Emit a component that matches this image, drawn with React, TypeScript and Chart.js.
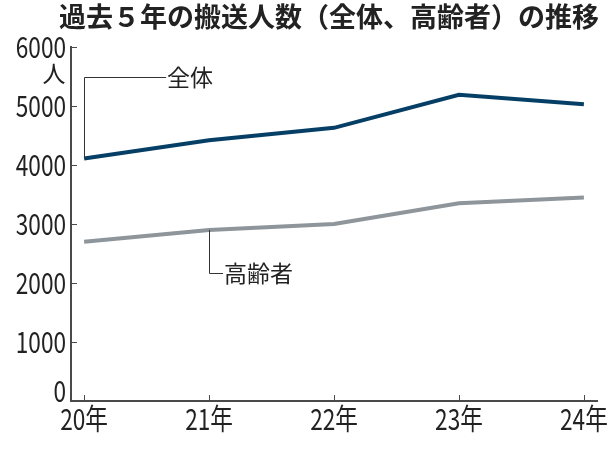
import React, { useEffect, useRef } from "react";
import { Chart, registerables } from "chart.js";

Chart.register(...registerables);

const years = [20, 21, 22, 23, 24];
const totalValues = [4110, 4420, 4630, 5190, 5030];
const elderlyValues = [2700, 2900, 3000, 3350, 3450];
const yTicks = [0, 1000, 2000, 3000, 4000, 5000, 6000];
const titleText = "過去５年の搬送人数（全体、高齢者）の推移";
const totalLabel = "全体";
const elderlyLabel = "高齢者";
const unitLabel = "人";

const FONT = "'Noto Sans CJK JP', 'Noto Sans', sans-serif";
const AXIS = "#4a4a4a";
const TEXT = "#222222";
const SQUEEZE = 0.78;

function condensedText(ctx: CanvasRenderingContext2D, text: string, x: number, y: number, align: "left" | "right" | "center") {
  ctx.save();
  ctx.translate(x, y);
  ctx.scale(SQUEEZE, 1);
  ctx.textAlign = align;
  ctx.fillText(text, 0, 0);
  ctx.restore();
}

export default function App() {
  const ref = useRef<HTMLCanvasElement>(null);
  useEffect(() => {
    const canvas = ref.current;
    if (!canvas) return;
    const deco = {
      id: "deco",
      afterDraw(chart: any) {
        const ctx = chart.ctx;
        const x = chart.scales.x;
        const y = chart.scales.y;
        const area = chart.chartArea;
        ctx.save();
        // title
        ctx.fillStyle = TEXT;
        ctx.font = `bold 27px ${FONT}`;
        ctx.textAlign = "center";
        ctx.textBaseline = "middle";
        ctx.fillText(titleText, 329, 17);
        // ticks inside
        ctx.strokeStyle = AXIS;
        ctx.lineWidth = 1;
        ctx.beginPath();
        yTicks.forEach((v) => {
          const py = Math.round(y.getPixelForValue(v)) + 0.5;
          ctx.moveTo(area.left, py);
          ctx.lineTo(area.left + 6, py);
        });
        years.forEach((v) => {
          const px = Math.round(x.getPixelForValue(v)) + 0.5;
          ctx.moveTo(px, area.bottom);
          ctx.lineTo(px, area.bottom - 6);
        });
        ctx.stroke();
        // tick labels (condensed)
        ctx.fillStyle = TEXT;
        ctx.font = `29px ${FONT}`;
        ctx.textBaseline = "middle";
        yTicks.forEach((v) => {
          let py = y.getPixelForValue(v);
          if (v === 0) py -= 10;
          condensedText(ctx, String(v), area.left - 5, py, "right");
        });
        years.forEach((v) => {
          const px = x.getPixelForValue(v);
          condensedText(ctx, `${v}年`, px, area.bottom + 18, "center");
        });
        // unit
        ctx.font = `23px ${FONT}`;
        ctx.textAlign = "center";
        ctx.fillText(unitLabel, 54, y.getPixelForValue(5550));
        // leader lines
        ctx.strokeStyle = "#333";
        ctx.lineWidth = 1;
        const x0 = x.getPixelForValue(years[0]);
        const y0 = y.getPixelForValue(totalValues[0]);
        const yTop = y.getPixelForValue(5490);
        ctx.beginPath();
        ctx.moveTo(Math.round(x0) + 0.5, y0);
        ctx.lineTo(Math.round(x0) + 0.5, Math.round(yTop) + 0.5);
        ctx.lineTo(x0 + 82, Math.round(yTop) + 0.5);
        ctx.stroke();
        ctx.fillStyle = TEXT;
        ctx.font = `23px ${FONT}`;
        ctx.textAlign = "left";
        ctx.textBaseline = "middle";
        ctx.fillText(totalLabel, x0 + 83, yTop);
        const x1 = x.getPixelForValue(years[1]);
        const y1 = y.getPixelForValue(elderlyValues[1]);
        const yBot = y.getPixelForValue(2170);
        ctx.beginPath();
        ctx.moveTo(Math.round(x1) + 0.5, y1);
        ctx.lineTo(Math.round(x1) + 0.5, Math.round(yBot) + 0.5);
        ctx.lineTo(x1 + 14, Math.round(yBot) + 0.5);
        ctx.stroke();
        ctx.fillText(elderlyLabel, x1 + 15, yBot);
        ctx.restore();
      },
    };
    const chart = new Chart(canvas, {
      type: "line",
      data: {
        datasets: [
          {
            label: elderlyLabel,
            data: years.map((yr, i) => ({ x: yr, y: elderlyValues[i] })),
            borderColor: "#8e959b",
            borderWidth: 4,
            pointRadius: 0,
            tension: 0,
          },
          {
            label: totalLabel,
            data: years.map((yr, i) => ({ x: yr, y: totalValues[i] })),
            borderColor: "#063f66",
            borderWidth: 4,
            pointRadius: 0,
            tension: 0,
          },
        ],
      },
      plugins: [deco],
      options: {
        animation: false,
        responsive: false,
        devicePixelRatio: 1,
        layout: { padding: { top: 47, right: 13, left: 0, bottom: 0 } },
        plugins: { legend: { display: false }, tooltip: { enabled: false }, title: { display: false } },
        scales: {
          x: {
            type: "linear",
            min: 19.895,
            max: 24.105,
            afterBuildTicks: (s: any) => {
              s.ticks = years.map((v) => ({ value: v }));
            },
            afterFit: (s: any) => {
              s.height = 49;
            },
            grid: { display: false },
            border: { display: true, color: AXIS, width: 2 },
            ticks: { display: false },
          },
          y: {
            min: 0,
            max: 6000,
            afterBuildTicks: (s: any) => {
              s.ticks = yTicks.map((v) => ({ value: v }));
            },
            afterFit: (s: any) => {
              s.width = 71;
            },
            grid: { display: false },
            border: { display: true, color: AXIS, width: 2 },
            ticks: { display: false },
          },
        },
      },
    });
    return () => chart.destroy();
  }, []);
  return (
    <div style={{ position: "fixed", left: 0, top: 0, width: 610, height: 450, background: "#fff" }}>
      <canvas ref={ref} width={610} height={450} style={{ width: 610, height: 450, display: "block" }} />
    </div>
  );
}
